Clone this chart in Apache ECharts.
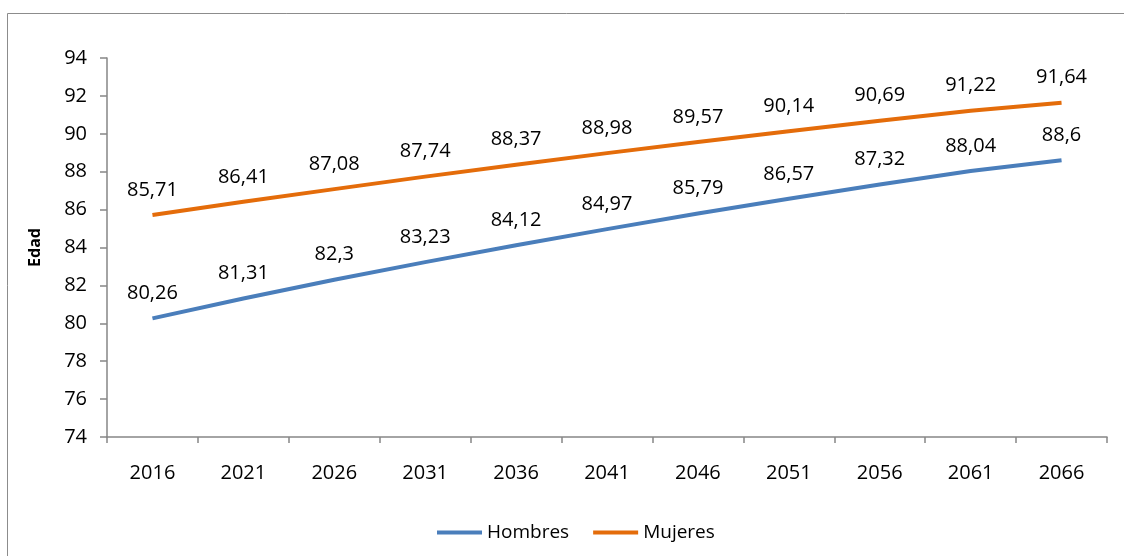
<!DOCTYPE html>
<html>
<head>
<meta charset="utf-8">
<script src="https://cdn.jsdelivr.net/npm/echarts@6/dist/echarts.min.js"></script>
<style>
  html, body { margin: 0; padding: 0; background: #ffffff; }
  #chart { width: 1124px; height: 556px; }
</style>
</head>
<body>
<div id="chart"></div>
<script>
// Esperanza de vida al nacer, proyección 2016-2066
const years = ['2016', '2021', '2026', '2031', '2036', '2041', '2046', '2051', '2056', '2061', '2066'];
const hombres = [80.26, 81.31, 82.3, 83.23, 84.12, 84.97, 85.79, 86.57, 87.32, 88.04, 88.6];
const mujeres = [85.71, 86.41, 87.08, 87.74, 88.37, 88.98, 89.57, 90.14, 90.69, 91.22, 91.64];
const yTicks = { min: 74, max: 94, step: 2 };

const FONT = 'Open Sans';
const decimalComma = v => String(v).replace('.', ',');

const chart = echarts.init(document.getElementById('chart'), null, { renderer: 'canvas' });

function lineSeries(name, data, color) {
  return {
    name: name,
    type: 'line',
    data: data,
    showSymbol: true,
    symbol: 'circle',
    symbolSize: 0,
    lineStyle: { color: color, width: 4 },
    itemStyle: { color: color },
    label: {
      show: true,
      position: 'top',
      distance: 15,
      fontFamily: FONT,
      fontSize: 20,
      color: '#000000',
      formatter: p => decimalComma(p.value)
    },
    emphasis: { disabled: true }
  };
}

chart.setOption({
  animation: false,
  backgroundColor: '#ffffff',
  textStyle: { fontFamily: FONT },
  graphic: [{
    type: 'rect',
    shape: { x: 7.5, y: 13.5, width: 1130, height: 560 },
    style: { fill: 'none', stroke: '#8c8c8c', lineWidth: 1 },
    silent: true
  }],
  grid: { left: 107, right: 17, top: 58, bottom: 119, containLabel: false },
  legend: {
    data: ['Hombres', 'Mujeres'],
    bottom: 9,
    left: 432,
    icon: 'rect',
    itemWidth: 45,
    itemHeight: 4,
    itemGap: 24,
    textStyle: { fontFamily: FONT, fontSize: 19, color: '#000000' }
  },
  xAxis: {
    type: 'category',
    data: years,
    boundaryGap: true,
    axisLine: { show: true, lineStyle: { color: '#868686', width: 1.5 } },
    axisTick: { show: true, length: 6, lineStyle: { color: '#868686', width: 1.5 } },
    axisLabel: { fontFamily: FONT, fontSize: 20, color: '#000000', margin: 26 },
    splitLine: { show: false }
  },
  yAxis: {
    type: 'value',
    name: 'Edad',
    nameLocation: 'middle',
    nameGap: 64,
    nameRotate: 90,
    nameTextStyle: { fontFamily: FONT, fontSize: 16, fontWeight: 'bold', color: '#000000' },
    min: yTicks.min,
    max: yTicks.max,
    interval: yTicks.step,
    axisLine: { show: true, lineStyle: { color: '#868686', width: 1.5 } },
    axisTick: { show: true, length: 7, inside: false, lineStyle: { color: '#868686', width: 1.5 } },
    axisLabel: { fontFamily: FONT, fontSize: 20, color: '#000000', margin: 20 },
    splitLine: { show: false }
  },
  series: [
    lineSeries('Hombres', hombres, '#4a7ebb'),
    lineSeries('Mujeres', mujeres, '#e46c0a')
  ]
});
</script>
</body>
</html>
